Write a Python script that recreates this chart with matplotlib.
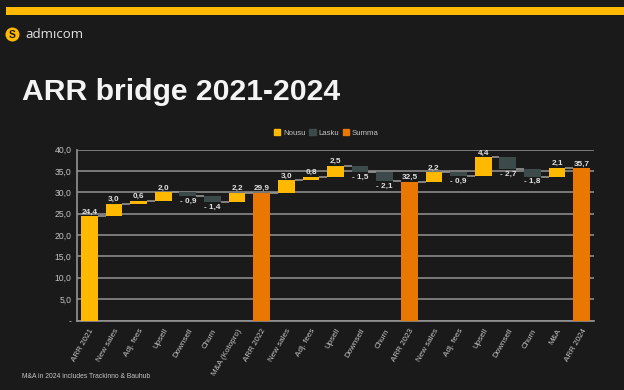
import matplotlib
matplotlib.use('Agg')
import matplotlib.pyplot as plt
from matplotlib.patches import Circle, Patch, Rectangle

plt.rcParams['font.family'] = ['Liberation Sans', 'DejaVu Sans']

# Chart data
categories = ['ARR 2021', 'New sales', 'Adj. fees', 'Upsell', 'Downsell', 'Churn', 'M&A (Kotopro)',
              'ARR 2022', 'New sales', 'Adj. fees', 'Upsell', 'Downsell', 'Churn',
              'ARR 2023', 'New sales', 'Adj. fees', 'Upsell', 'Downsell', 'Churn', 'M&A', 'ARR 2024']
values = [24.4, 3.0, 0.6, 2.0, -0.9, -1.4, 2.2,
          29.9, 3.0, 0.8, 2.5, -1.5, -2.1,
          32.5, 2.2, -0.9, 4.4, -2.7, -1.8, 2.1, 35.7]
totals = ['ARR 2022', 'ARR 2023', 'ARR 2024']
y_ticks = [0, 5, 10, 15, 20, 25, 30, 35, 40]
legend_names = ['Nousu', 'Lasku', 'Summa']

BG = '#1a1a1a'
YELLOW = '#ffb900'
DARK = '#3c4a4a'
ORANGE = '#e87800'
GRID = '#949494'
TEXT = '#c4c4c4'
W, H = 624, 390

fig = plt.figure(figsize=(W / 100, H / 100), dpi=100, facecolor=BG)

# Header: brand strip, logo, title and footnote sit in figure pixels
page = fig.add_axes([0, 0, 1, 1])
page.set_xlim(0, W)
page.set_ylim(H, 0)
page.axis('off')
page.add_patch(Rectangle((6, 7), 618, 8, color=YELLOW, lw=0))
page.add_patch(Circle((12.5, 34.5), 7, color=YELLOW, lw=0))
page.text(12.5, 34.5, 'S', color=BG, fontsize=7.5, fontweight='bold', ha='center', va='center')
page.text(25, 34, 'admıcom', color='#e4e4e4', fontsize=9.5, family='Open Sans', va='center')
page.text(22, 92, 'ARR bridge 2021-2024', color='#f4f4f4', fontsize=21.7, fontweight='bold', va='center')
page.text(22, 376, 'M&A in 2024 includes Trackinno & Bauhub', color=TEXT, fontsize=4.9, va='center')

# Chart area
left, right, top, bottom = 77, 594, 149.7, 320.5
ax = fig.add_axes([left / W, 1 - bottom / H, (right - left) / W, (bottom - top) / H])
ax.set_facecolor('none')
ax.set_xlim(-0.5, len(values) - 0.5)
ax.set_ylim(0, 40)

# Waterfall: each delta starts where the running total stopped
running = 0
bar_w = 0.68
ends = []
for i, (name, v) in enumerate(zip(categories, values)):
    if name in totals or i == 0:
        color = ORANGE if name in totals else YELLOW
        ax.bar(i, v, bar_w, color=color, zorder=3)
        running = v
        ax.text(i, v + 0.15, f'{v:.1f}'.replace('.', ','), color='#e0e0e0', fontsize=5.9,
                fontweight='bold', ha='center', va='bottom', zorder=5)
    else:
        new = running + v
        ax.bar(i, abs(v), bar_w, bottom=min(running, new), color=YELLOW if v > 0 else DARK, zorder=3)
        running = new
        if v > 0:
            ax.text(i, new + 0.15, f'{v:.1f}'.replace('.', ','), color='#e0e0e0', fontsize=5.9,
                    fontweight='bold', ha='center', va='bottom', zorder=5)
        else:
            ax.text(i, new - 0.35, '- ' + f'{-v:.1f}'.replace('.', ','), color='#e0e0e0', fontsize=5.9,
                    fontweight='bold', ha='center', va='top', zorder=5)
    ends.append(running)

# Connector lines between neighbouring bars
for i in range(len(ends) - 1):
    ax.plot([i + bar_w / 2, i + 1 - bar_w / 2], [ends[i], ends[i]], color=GRID, lw=1.2, zorder=2,
            solid_capstyle='butt')

ax.set_yticks(y_ticks)
ax.set_yticklabels([f'{t:.1f}'.replace('.', ',') if t else '-' for t in y_ticks], color=TEXT, fontsize=6.2)
ax.grid(axis='y', color=GRID, lw=1.1, zorder=1)
ax.set_axisbelow(True)
ax.tick_params(axis='y', length=0, pad=4)
ax.tick_params(axis='x', length=0, pad=5)
ax.set_xticks(range(len(categories)))
ax.set_xticklabels(categories, rotation=60, ha='right', rotation_mode='anchor', color=TEXT, fontsize=5.8)
for side in ['top', 'right']:
    ax.spines[side].set_visible(False)
for side in ['left', 'bottom']:
    ax.spines[side].set_color(GRID)
    ax.spines[side].set_linewidth(1.2)

handles = [Patch(color=c) for c in [YELLOW, DARK, ORANGE]]
fig.legend(handles, legend_names, loc='center', bbox_to_anchor=(326.5 / W, 1 - 133 / H), ncol=3, frameon=False,
           fontsize=5.6, labelcolor=TEXT, handlelength=0.8, handleheight=0.8, handletextpad=0.35, columnspacing=0.5,
           borderpad=0, borderaxespad=0)

fig.savefig('out.png', dpi=100, facecolor=BG)
